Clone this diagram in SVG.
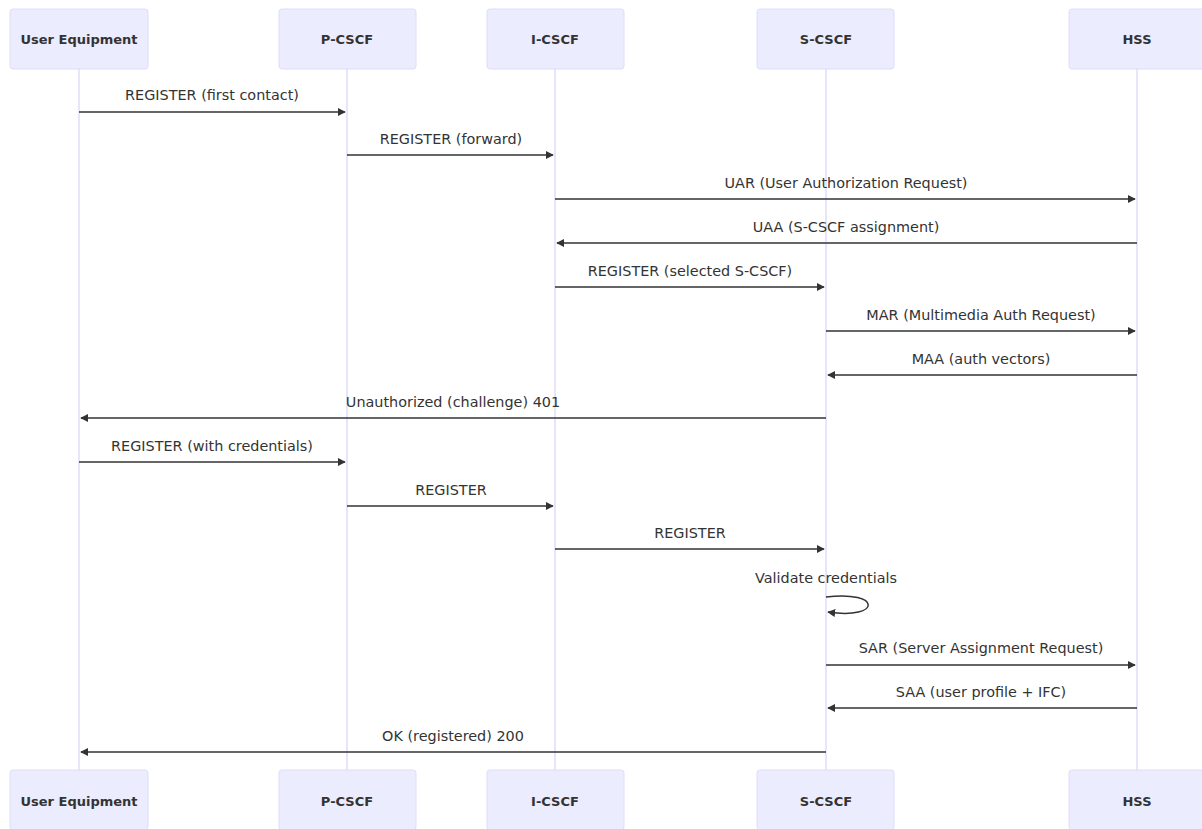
<svg xmlns="http://www.w3.org/2000/svg" width="1202" height="829" viewBox="0 0 1202 829">
<style>
.actor{fill:#ECECFF;stroke:#e0dcf8;stroke-width:1}
.atext{font-family:"DejaVu Sans","Liberation Sans",sans-serif;font-size:13px;font-weight:bold;fill:#333;text-anchor:middle;dominant-baseline:central}
.life{stroke:#e0dcf8;stroke-width:1.5}
.msg{stroke:#333;stroke-width:1.5;fill:none}
.mtext{font-family:"DejaVu Sans","Liberation Sans",sans-serif;font-size:14.4px;fill:#333;text-anchor:middle}
</style>
<defs>
<marker id="ah" viewBox="0 0 10 10" refX="9" refY="5" markerWidth="8" markerHeight="8" markerUnits="userSpaceOnUse" orient="auto">
<path d="M0,0 L10,5 L0,10 z" fill="#333"/>
</marker>
</defs>
<rect width="1202" height="829" fill="#fff"/>
<g id="lifelines">
<line class="life" x1="79" y1="69" x2="79" y2="770"/>
<line class="life" x1="347" y1="69" x2="347" y2="770"/>
<line class="life" x1="555" y1="69" x2="555" y2="770"/>
<line class="life" x1="826" y1="69" x2="826" y2="770"/>
<line class="life" x1="1137" y1="69" x2="1137" y2="770"/>
</g>
<g id="actor-ue"><rect class="actor" x="10" y="9" width="138" height="60" rx="3"/><text class="atext" x="79" y="39">User Equipment</text></g>
<g id="actor-pcscf"><rect class="actor" x="279" y="9" width="137" height="60" rx="3"/><text class="atext" x="347" y="39">P-CSCF</text></g>
<g id="actor-icscf"><rect class="actor" x="487" y="9" width="137" height="60" rx="3"/><text class="atext" x="555" y="39">I-CSCF</text></g>
<g id="actor-scscf"><rect class="actor" x="757" y="9" width="137" height="60" rx="3"/><text class="atext" x="826" y="39">S-CSCF</text></g>
<g id="actor-hss"><rect class="actor" x="1069" y="9" width="137" height="60" rx="3"/><text class="atext" x="1137" y="39">HSS</text></g>
<g id="actor-ue-bottom"><rect class="actor" x="10" y="770" width="138" height="60" rx="3"/><text class="atext" x="79" y="801">User Equipment</text></g>
<g id="actor-pcscf-bottom"><rect class="actor" x="279" y="770" width="137" height="60" rx="3"/><text class="atext" x="347" y="801">P-CSCF</text></g>
<g id="actor-icscf-bottom"><rect class="actor" x="487" y="770" width="137" height="60" rx="3"/><text class="atext" x="555" y="801">I-CSCF</text></g>
<g id="actor-scscf-bottom"><rect class="actor" x="757" y="770" width="137" height="60" rx="3"/><text class="atext" x="826" y="801">S-CSCF</text></g>
<g id="actor-hss-bottom"><rect class="actor" x="1069" y="770" width="137" height="60" rx="3"/><text class="atext" x="1137" y="801">HSS</text></g>
<g id="connectors">
<line class="msg" x1="79" y1="112" x2="345" y2="112" marker-end="url(#ah)"/>
<line class="msg" x1="347" y1="155" x2="553" y2="155" marker-end="url(#ah)"/>
<line class="msg" x1="555" y1="199" x2="1135" y2="199" marker-end="url(#ah)"/>
<line class="msg" x1="1137" y1="243" x2="557" y2="243" marker-end="url(#ah)"/>
<line class="msg" x1="555" y1="287" x2="824" y2="287" marker-end="url(#ah)"/>
<line class="msg" x1="826" y1="331" x2="1135" y2="331" marker-end="url(#ah)"/>
<line class="msg" x1="1137" y1="375" x2="828" y2="375" marker-end="url(#ah)"/>
<line class="msg" x1="826" y1="418" x2="81" y2="418" marker-end="url(#ah)"/>
<line class="msg" x1="79" y1="462" x2="345" y2="462" marker-end="url(#ah)"/>
<line class="msg" x1="347" y1="506" x2="553" y2="506" marker-end="url(#ah)"/>
<line class="msg" x1="555" y1="549" x2="824" y2="549" marker-end="url(#ah)"/>
<path class="msg" d="M826,597 C882,590 882,620 828,612" marker-end="url(#ah)"/>
<line class="msg" x1="826" y1="665" x2="1135" y2="665" marker-end="url(#ah)"/>
<line class="msg" x1="1137" y1="708" x2="828" y2="708" marker-end="url(#ah)"/>
<line class="msg" x1="826" y1="752" x2="81" y2="752" marker-end="url(#ah)"/>
<text class="mtext" x="212" y="100">REGISTER (first contact)</text>
<text class="mtext" x="451" y="144">REGISTER (forward)</text>
<text class="mtext" x="846" y="188">UAR (User Authorization Request)</text>
<text class="mtext" x="846" y="232">UAA (S-CSCF assignment)</text>
<text class="mtext" x="690" y="276">REGISTER (selected S-CSCF)</text>
<text class="mtext" x="981" y="320">MAR (Multimedia Auth Request)</text>
<text class="mtext" x="981" y="364">MAA (auth vectors)</text>
<text class="mtext" x="453" y="407">Unauthorized (challenge) 401</text>
<text class="mtext" x="212" y="451">REGISTER (with credentials)</text>
<text class="mtext" x="451" y="495">REGISTER</text>
<text class="mtext" x="690" y="538">REGISTER</text>
<text class="mtext" x="826" y="583">Validate credentials</text>
<text class="mtext" x="981" y="653">SAR (Server Assignment Request)</text>
<text class="mtext" x="981" y="697">SAA (user profile + IFC)</text>
<text class="mtext" x="453" y="741">OK (registered) 200</text>
</g>
</svg>
